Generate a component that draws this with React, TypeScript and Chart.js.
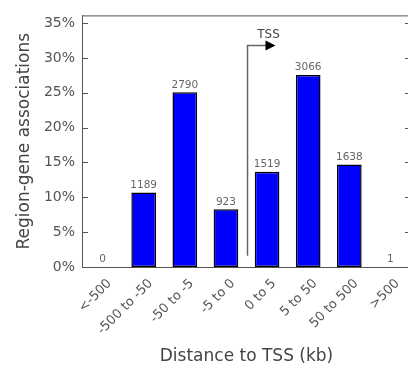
import React, { useEffect, useRef } from "react";
import { Chart, registerables } from "chart.js";

Chart.register(...registerables);

const categories = ["<-500", "-500 to -50", "-50 to -5", "-5 to 0", "0 to 5", "5 to 50", "50 to 500", ">500"];
const counts = [0, 1189, 2790, 923, 1519, 3066, 1638, 1];
const percents = [0, 10.69, 25.08, 8.3, 13.65, 27.56, 14.72, 0.01];
const yTickValues = [0, 5, 10, 15, 20, 25, 30, 35];
const yMax = 36.1;
const tssLabel = "TSS";
const tssTopValue = 31.9;
const tssBottomValue = 1.6;
const xTitle = "Distance to TSS (kb)";
const yTitle = "Region-gene associations";

const FONT = "'DejaVu Sans', sans-serif";

const decorPlugin = {
  id: "decor",
  afterDatasetsDraw(chart: any) {
    const ctx = chart.ctx;
    const area = chart.chartArea;
    const xs = chart.scales.x;
    const ys = chart.scales.y;
    ctx.save();
    // top border
    ctx.strokeStyle = "#555";
    ctx.lineWidth = 1;
    ctx.beginPath();
    ctx.moveTo(area.left, area.top + 0.5);
    ctx.lineTo(area.right + 5, area.top + 0.5);
    ctx.stroke();
    // inward ticks
    yTickValues.forEach((v) => {
      const y = Math.round(ys.getPixelForValue(v)) + 0.5;
      ctx.beginPath();
      ctx.moveTo(area.left, y);
      ctx.lineTo(area.left + 6, y);
      ctx.moveTo(area.right, y);
      ctx.lineTo(area.right - 6, y);
      ctx.stroke();
    });
    // value labels
    const meta = chart.getDatasetMeta(0);
    ctx.fillStyle = "#666";
    ctx.font = "10.5px " + FONT;
    ctx.textAlign = "center";
    ctx.textBaseline = "bottom";
    meta.data.forEach((bar: any, i: number) => {
      ctx.fillText(String(counts[i]), bar.x, bar.y - 2);
    });
    // TSS arrow
    const x = Math.round((xs.getPixelForValue(3) + xs.getPixelForValue(4)) / 2) + 0.5;
    const yTop = Math.round(ys.getPixelForValue(tssTopValue)) + 0.5;
    const yBot = ys.getPixelForValue(tssBottomValue);
    ctx.strokeStyle = "#666";
    ctx.lineWidth = 1.5;
    ctx.beginPath();
    ctx.moveTo(x, yBot);
    ctx.lineTo(x, yTop);
    ctx.lineTo(x + 20, yTop);
    ctx.stroke();
    ctx.fillStyle = "#000";
    ctx.beginPath();
    ctx.moveTo(x + 18, yTop - 5);
    ctx.lineTo(x + 28, yTop);
    ctx.lineTo(x + 18, yTop + 5);
    ctx.closePath();
    ctx.fill();
    ctx.fillStyle = "#444";
    ctx.font = "12px " + FONT;
    ctx.textAlign = "center";
    ctx.textBaseline = "middle";
    ctx.fillText(tssLabel, x + 21, yTop - 11);
    ctx.restore();
  },
};

export default function App() {
  const ref = useRef<HTMLCanvasElement | null>(null);
  useEffect(() => {
    if (!ref.current) return;
    const chart = new Chart(ref.current, {
      type: "bar",
      data: {
        labels: categories,
        datasets: [
          {
            data: percents,
            backgroundColor: "#0000ff",
            borderColor: "#000",
            borderWidth: 1.5,
            borderSkipped: false,
            barPercentage: 0.6,
            categoryPercentage: 1,
          },
        ],
      },
      options: {
        responsive: false,
        animation: false,
        devicePixelRatio: 1,
        layout: { padding: { top: 13, right: 3, left: 0, bottom: 0 } },
        plugins: { legend: { display: false }, tooltip: { enabled: false } },
        scales: {
          x: {
            grid: { display: false, drawTicks: false },
            border: { display: true, color: "#555", width: 1 },
            ticks: {
              color: "#555",
              font: { family: FONT, size: 13 },
              minRotation: 45,
              maxRotation: 45,
              padding: 9,
              labelOffset: 7,
            },
            title: {
              display: true,
              text: xTitle,
              color: "#444",
              font: { family: FONT, size: 17 },
              padding: { top: 4, bottom: 3 },
            },
            afterFit(scale: any) {
              scale.height = 103;
            },
          },
          y: {
            min: 0,
            max: yMax,
            grid: { display: false, drawTicks: false },
            border: { display: true, color: "#555", width: 1 },
            ticks: {
              color: "#555",
              font: { family: FONT, size: 14 },
              padding: 7,
              callback: (v: any) => v + "%",
            },
            afterBuildTicks(scale: any) {
              scale.ticks = yTickValues.map((v) => ({ value: v }));
            },
            title: {
              display: true,
              text: yTitle,
              color: "#444",
              font: { family: FONT, size: 17 },
              padding: { top: 14, bottom: 0 },
            },
            afterFit(scale: any) {
              scale.width = 82;
            },
          },
        },
      },
      plugins: [decorPlugin],
    });
    return () => chart.destroy();
  }, []);
  return (
    <div style={{ position: "absolute", left: 0, top: 0, width: 408, height: 370, overflow: "hidden", background: "#fff" }}>
      <canvas ref={ref} width={414} height={370} style={{ width: 414, height: 370, display: "block" }} />
    </div>
  );
}
